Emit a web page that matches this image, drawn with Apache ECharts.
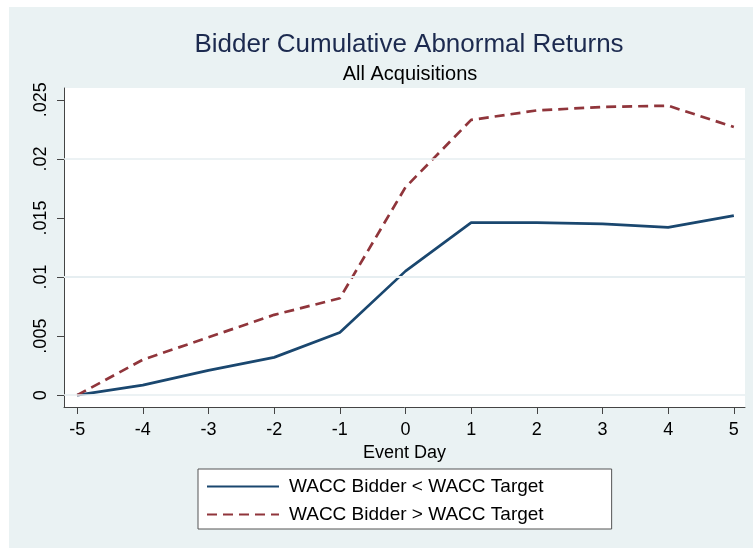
<!DOCTYPE html>
<html>
<head>
<meta charset="utf-8">
<title>Bidder CAR</title>
<script src="https://cdn.jsdelivr.net/npm/echarts@6/dist/echarts.min.js"></script>
<style>
  html, body { margin: 0; padding: 0; background: #fff; }
  #chart { width: 755px; height: 551px; }
</style>
</head>
<body>
<div id="chart"></div>
<script>
  // event days and tick positions
  var eventDays = [-5, -4, -3, -2, -1, 0, 1, 2, 3, 4, 5];
  var yTicks = [0, 0.005, 0.01, 0.015, 0.02, 0.025];
  var yTickLabels = ['0', '.005', '.01', '.015', '.02', '.025'];

  // cumulative abnormal returns
  var bidderLower = [0, 0.00085, 0.0021, 0.0032, 0.0053, 0.0105, 0.0146, 0.0146, 0.0145, 0.0142, 0.0152];
  var bidderHigher = [0, 0.0030, 0.0049, 0.0068, 0.0082, 0.0176, 0.0233, 0.0241, 0.0244, 0.0245, 0.0227];

  var seriesNames = ['WACC Bidder < WACC Target', 'WACC Bidder > WACC Target'];

  function pairs(vals) {
    return eventDays.map(function (d, i) { return [d, vals[i]]; });
  }

  var myChart = echarts.init(document.getElementById('chart'));

  var option = {
    backgroundColor: '#fff',
    animation: false,
    textStyle: { fontFamily: 'Liberation Sans, Arial, sans-serif' },
    // stata style outer panel
    graphic: [{
      type: 'rect',
      z: -10,
      shape: { x: 9, y: 7, width: 744, height: 541 },
      style: { fill: '#eaf2f3' }
    }],
    title: [{
      text: 'Bidder Cumulative Abnormal Returns',
      left: 404,
      top: 27,
      textAlign: 'center',
      textStyle: { fontSize: 26, fontWeight: 'normal', color: '#1c2a4f' }
    }, {
      text: 'All Acquisitions',
      left: 405,
      top: 59,
      textAlign: 'center',
      textStyle: { fontSize: 20, fontWeight: 'normal', color: '#000' }
    }],
    legend: {
      orient: 'vertical',
      left: 198,
      top: 469,
      padding: [8, 68, 5, 8],
      itemWidth: 72,
      itemHeight: 19,
      itemGap: 9,
      backgroundColor: '#fff',
      borderColor: '#555',
      borderWidth: 1,
      borderRadius: 0,
      itemStyle: { opacity: 0 },
      textStyle: { fontSize: 19, color: '#000', padding: [0, 0, 0, 5] },
      data: seriesNames
    },
    grid: {
      left: 64,
      right: 10,
      top: 88,
      bottom: 144,
      show: true,
      backgroundColor: '#fff',
      borderWidth: 0
    },
    xAxis: {
      type: 'value',
      min: -5.2,
      max: 5.17,
      name: 'Event Day',
      nameLocation: 'middle',
      nameGap: 32,
      nameTextStyle: { fontSize: 18, color: '#000' },
      axisLine: { show: true, onZero: false, lineStyle: { color: '#444', width: 1 } },
      axisTick: { show: true, length: 7, customValues: eventDays, lineStyle: { color: '#444' } },
      axisLabel: { fontSize: 18, color: '#000', margin: 14, customValues: eventDays },
      splitLine: { show: false }
    },
    yAxis: {
      type: 'value',
      min: -0.001,
      max: 0.026,
      axisLine: { show: true, onZero: false, lineStyle: { color: '#444', width: 1 } },
      axisTick: { show: true, length: 7, customValues: yTicks, lineStyle: { color: '#444' } },
      axisLabel: {
        fontSize: 18,
        color: '#000',
        rotate: 90,
        margin: 14,
        customValues: yTicks,
        formatter: function (v) {
          var i = yTicks.indexOf(v);
          return i >= 0 ? yTickLabels[i] : '';
        }
      },
      splitLine: { show: false }
    },
    series: [{
      name: seriesNames[0],
      type: 'line',
      data: pairs(bidderLower),
      showSymbol: false,
      symbol: 'none',
      lineStyle: { color: '#1a476f', width: 2.7 },
      itemStyle: { color: '#1a476f' },
      // horizontal gridlines
      markLine: {
        silent: true,
        symbol: 'none',
        label: { show: false },
        lineStyle: { color: '#e6eef1', width: 1.5, type: 'solid' },
        data: yTicks.map(function (t) { return { yAxis: t }; })
      },
      z: 3
    }, {
      name: seriesNames[1],
      type: 'line',
      data: pairs(bidderHigher),
      showSymbol: false,
      symbol: 'none',
      lineStyle: { color: '#90353b', width: 2.7, type: [10, 6] },
      itemStyle: { color: '#90353b' },
      z: 4
    }]
  };

  myChart.setOption(option);
</script>
</body>
</html>
